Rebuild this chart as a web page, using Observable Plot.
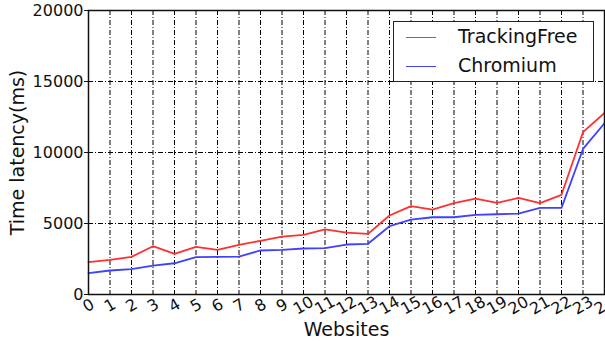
<!DOCTYPE html>
<html><head><meta charset="utf-8">
<script src="https://cdn.jsdelivr.net/npm/d3@7"></script>
<script src="https://cdn.jsdelivr.net/npm/@observablehq/plot@0.6"></script>
<style>
body{margin:0;background:#fff;font-family:"DejaVu Sans",sans-serif;}
#wrap{position:relative;width:605px;height:343px;overflow:hidden;}
#legend{position:absolute;left:393px;top:21px;width:199px;height:59px;border:1.5px solid #222;background:#fff;}
.item{position:absolute;left:12px;font-size:19px;color:#111;}
.item .sw{display:inline-block;width:30px;height:0;border-top:1.8px solid;vertical-align:middle;margin-right:22px;}
</style></head>
<body><div id="wrap"><div id="legend"></div></div>
<script>
const websites = d3.range(0, 25);
const trackingFree = [2275,2440,2650,3400,2860,3350,3140,3500,3780,4080,4200,4580,4360,4270,5560,6220,5980,6430,6760,6450,6800,6430,7020,11430,12790];
const chromium = [1500,1690,1780,2040,2200,2630,2650,2670,3100,3140,3240,3260,3520,3570,4810,5280,5440,5440,5610,5650,5700,6100,6100,10250,12060];
const seriesNames = ["TrackingFree", "Chromium"];
const seriesColors = ["#ff3030", "#4040ff"];
const yTicks = [0, 5000, 10000, 15000, 20000];

const data = [];
websites.forEach((w, i) => {
  data.push({w, v: trackingFree[i], s: seriesNames[0]});
  data.push({w, v: chromium[i], s: seriesNames[1]});
});
const grid = {stroke: "#000", strokeOpacity: 1, strokeWidth: 1, strokeDasharray: "5,2,1,2"};
const chart = Plot.plot({
  width: 605, height: 343,
  marginLeft: 88, marginTop: 10, marginRight: 1, marginBottom: 49,
  style: {fontFamily: "DejaVu Sans", fontSize: "16px", color: "#111", background: "#fff"},
  x: {domain: [0, 24]},
  y: {domain: [0, 20000]},
  color: {domain: seriesNames, range: seriesColors},
  marks: [
    Plot.gridX(websites, {...grid}),
    Plot.gridY(yTicks.slice(1, -1), {...grid}),
    Plot.line(data, {x: "w", y: "v", z: "s", stroke: "s", strokeWidth: 1.8}),
    Plot.frame({stroke: "#111", strokeWidth: 1.5}),
    Plot.axisY(yTicks, {tickSize: 4, tickPadding: 1, fontSize: 16, tickFormat: d => String(d), label: null}),
    Plot.axisX(websites, {tickSize: 0, tickPadding: 11, tickRotate: -30, textAnchor: "middle", fontSize: 16, label: null}),
    Plot.text(["Time latency(ms)"], {frameAnchor: "left", dx: -71, rotate: -90, textAnchor: "middle", fontSize: 19}),
    Plot.text(["Websites"], {frameAnchor: "bottom", dy: 41, fontSize: 19})
  ]
});
document.getElementById("wrap").prepend(chart);
const lg = document.getElementById("legend");
seriesNames.forEach((n, i) => {
  const d = document.createElement("div");
  d.className = "item";
  d.style.top = (3 + i * 29) + "px";
  d.innerHTML = `<span class="sw" style="border-color:${seriesColors[i]}"></span>${n}`;
  lg.appendChild(d);
});
</script></body></html>
